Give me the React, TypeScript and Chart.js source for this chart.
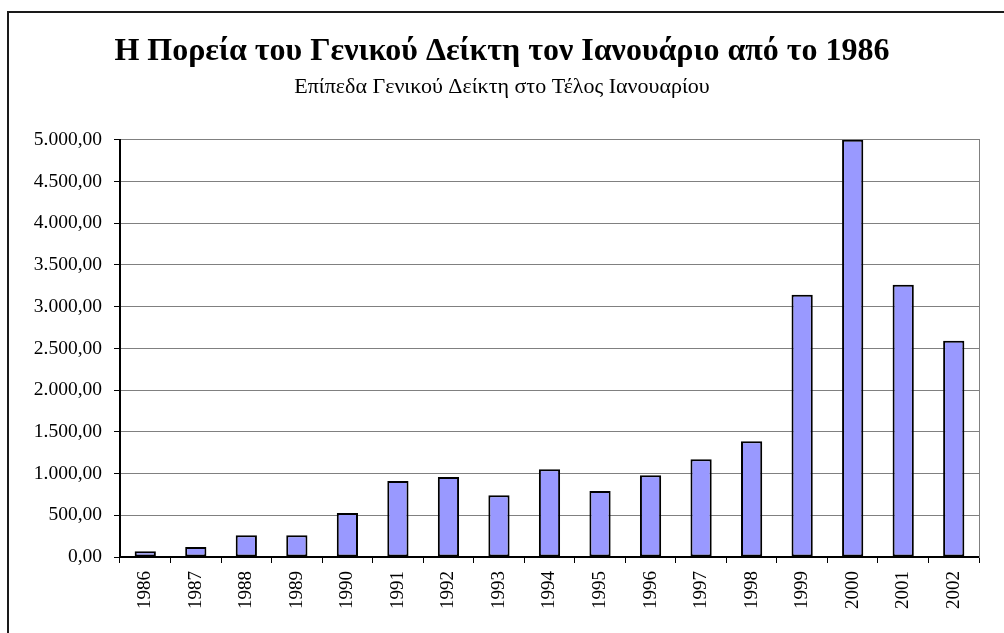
import React, { useEffect, useRef } from "react";
import { Chart, registerables } from "chart.js";

Chart.register(...registerables);

const years: string[] = [
  "1986", "1987", "1988", "1989", "1990", "1991", "1992", "1993", "1994",
  "1995", "1996", "1997", "1998", "1999", "2000", "2001", "2002",
];
const indexLevels: number[] = [
  68, 120, 262, 262, 528, 912, 960, 740, 1052, 792, 980, 1172, 1388, 3144, 5000, 3264, 2592,
];
const yMin = 0;
const yMax = 5000;
const yStep = 500;

const titleText = "Η Πορεία του Γενικού Δείκτη τον Ιανουάριο από το 1986";
const subtitleText = "Επίπεδα Γενικού Δείκτη στο Τέλος Ιανουαρίου";

const FONT = "'Liberation Serif', 'Times New Roman', serif";

function fmt(v: number): string {
  const [i, d] = v.toFixed(2).split(".");
  return i.replace(/\B(?=(\d{3})+(?!\d))/g, ".") + "," + d;
}

const framePlugin = {
  id: "frame",
  beforeDraw(chart: any) {
    const { ctx, width, height } = chart;
    ctx.save();
    ctx.fillStyle = "#ffffff";
    ctx.fillRect(0, 0, width, height);
    ctx.strokeStyle = "#1a1a1a";
    ctx.lineWidth = 2;
    ctx.beginPath();
    ctx.moveTo(8, height);
    ctx.lineTo(8, 12);
    ctx.lineTo(width, 12);
    ctx.stroke();
    ctx.restore();
  },
};

export default function App() {
  const ref = useRef<HTMLCanvasElement | null>(null);
  useEffect(() => {
    if (!ref.current) return;
    const chart = new Chart(ref.current, {
      type: "bar",
      data: {
        labels: years,
        datasets: [
          {
            data: indexLevels,
            backgroundColor: "#9999FF",
            borderColor: "#000000",
            borderWidth: 2,
            barPercentage: 0.42,
            categoryPercentage: 1,
            borderSkipped: false,
          },
        ],
      },
      options: {
        animation: false,
        responsive: true,
        maintainAspectRatio: false,
        layout: { padding: 0 },
        plugins: {
          legend: { display: false },
          tooltip: { enabled: false },
          title: {
            display: true,
            text: titleText,
            color: "#000",
            font: { family: FONT, size: 32, weight: "bold", lineHeight: 1.2 },
            padding: { top: 33, bottom: 0 },
          },
          subtitle: {
            display: true,
            text: subtitleText,
            color: "#000",
            font: { family: FONT, size: 22, weight: "normal", lineHeight: 1.2 },
            padding: { top: 3, bottom: 39 },
          },
        },
        scales: {
          x: {
            offset: true,
            grid: {
              offset: true,
              drawOnChartArea: false,
              drawTicks: true,
              tickLength: 6,
              tickColor: "#000",
              color: "#000",
            },
            border: { display: true, color: "#000", width: 2 },
            ticks: {
              color: "#000",
              font: { family: FONT, size: 19 },
              minRotation: 90,
              maxRotation: 90,
              padding: 8,
              autoSkip: false,
            },
            afterFit(scale: any) {
              scale.height = 76;
            },
          },
          y: {
            min: yMin,
            max: yMax,
            grid: {
              color: "#808080",
              lineWidth: 1,
              drawTicks: true,
              tickLength: 6,
              tickColor: "#000",
            },
            border: { display: true, color: "#000", width: 2 },
            ticks: {
              stepSize: yStep,
              color: "#000",
              font: { family: FONT, size: 19.5 },
              padding: 12,
              callback: (v: any) => fmt(Number(v)),
            },
            afterFit(scale: any) {
              scale.width = 120;
            },
          },
          y2: {
            position: "right",
            min: yMin,
            max: yMax,
            grid: { drawOnChartArea: false, drawTicks: false },
            border: { display: true, color: "#808080", width: 1 },
            ticks: { display: false },
            afterFit(scale: any) {
              scale.width = 25;
            },
          },
        },
      },
      plugins: [framePlugin],
    });
    return () => chart.destroy();
  }, []);
  return (
    <div style={{ position: "fixed", left: 0, top: 0, width: 1004, height: 633, background: "#fff" }}>
      <canvas ref={ref} />
    </div>
  );
}
